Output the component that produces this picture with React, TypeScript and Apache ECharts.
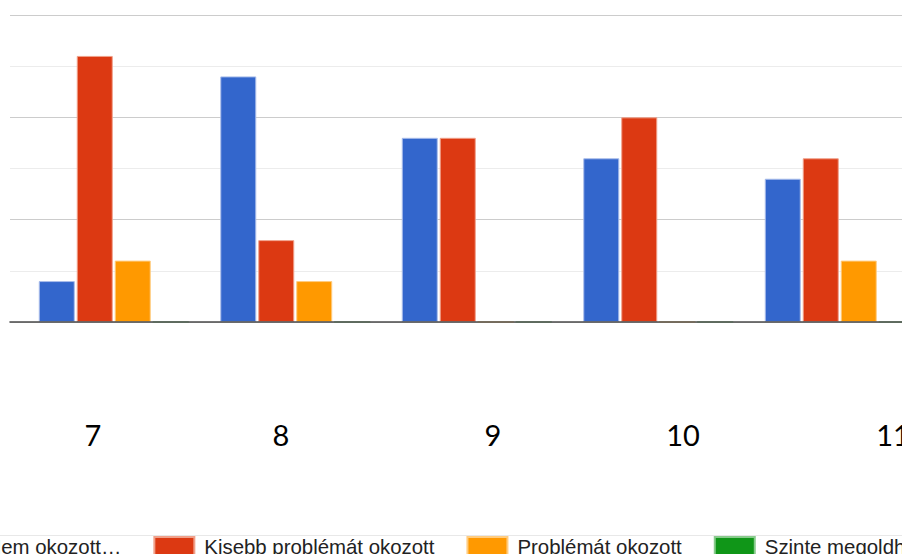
import React, { useEffect, useRef } from "react";
import * as echarts from "echarts";

const categories = ["7", "8", "9", "10", "11"];
const seriesNames = [
  "Nem okozott problémát",
  "Kisebb problémát okozott",
  "Problémát okozott",
  "Szinte megoldhatatlan problémát okozott",
];
const nemOkozott = [2, 12, 9, 8, 7];
const kisebb = [13, 4, 9, 10, 8];
const problemat = [3, 2, 0, 0, 3];
const szinte = [0, 0, 0, 0, 0];
const colors = ["#3366cc", "#dc3912", "#ff9900", "#109618"];
const borderColors = ["#a9bdea", "#f0a08a", "#ffcc80", "#88cb8c"];

// layout of the overlaid category labels (x centres in px)
const labelX = [93, 281, 493, 683, 893];

export default function App() {
  const ref = useRef<HTMLDivElement>(null);
  useEffect(() => {
    document.body.style.margin = "0";
    const chart = echarts.init(ref.current!, undefined, { renderer: "svg" });
    const values = [nemOkozott, kisebb, problemat, szinte];
    chart.setOption({
      animation: false,
      grid: [
        { left: 10, right: 0, top: 15, bottom: 232, outerBoundsMode: "none", containLabel: false },
        { left: 23, width: 907.5, top: 15, bottom: 232, outerBoundsMode: "none", containLabel: false },
      ],
      xAxis: [
        {
          gridIndex: 0,
          type: "value",
          min: 0,
          max: 1,
          z: 5,
          axisLine: { show: true, onZero: false, lineStyle: { color: "#4a4a4a", width: 1.6 } },
          axisTick: { show: false },
          axisLabel: { show: false },
          splitLine: { show: false },
        },
        {
          gridIndex: 1,
          type: "category",
          data: categories,
          axisLine: { show: false },
          axisTick: { show: false },
          axisLabel: { show: false },
          splitLine: { show: false },
        },
      ],
      yAxis: [
        {
          gridIndex: 0,
          type: "value",
          min: 0,
          max: 15,
          interval: 5,
          axisLine: { show: false },
          axisTick: { show: false },
          axisLabel: { show: false },
          splitLine: { show: true, lineStyle: { color: "#cccccc", width: 1.2 } },
          minorTick: { show: false, splitNumber: 2 },
          minorSplitLine: { show: true, lineStyle: { color: "#ececec", width: 1.2 } },
        },
        {
          gridIndex: 1,
          type: "value",
          min: 0,
          max: 15,
          show: false,
          splitLine: { show: false },
        },
      ],
      legend: {
        left: -64.5,
        top: 536,
        padding: 0,
        width: 3000,
        itemWidth: 40,
        itemHeight: 20,
        itemGap: 32,
        icon: "rect",
        data: seriesNames,
        formatter: (name: string) => (name === seriesNames[0] ? "Nem okozott…" : name),
        textStyle: {
          fontFamily: "'Liberation Sans', Arial, sans-serif",
          fontSize: 20.4,
          color: "#222222",
          padding: [0, 0, 2, 5],
        },
      },
      graphic: [
        {
          type: "line",
          shape: { x1: 0, y1: 535.5, x2: 902, y2: 535.5 },
          style: { stroke: "#e8e8e8", lineWidth: 1 },
          silent: true,
        },
        ...categories.map((c, i) => ({
          type: "text",
          x: labelX[i],
          y: 434,
          style: {
            text: c,
            fontFamily: "Lato, 'Open Sans', sans-serif",
            fontSize: 29,
            fill: "#000000",
            align: "center",
            verticalAlign: "middle",
          },
          silent: true,
        })),
      ],
      series: seriesNames.map((name, i) => ({
        name,
        type: "bar",
        xAxisIndex: 1,
        yAxisIndex: 1,
        data: values[i],
        barWidth: 36,
        barGap: "5.5%",
        itemStyle: { color: colors[i], borderColor: borderColors[i], borderWidth: 1 },
        emphasis: { disabled: true },
      })),
    });
    return () => chart.dispose();
  }, []);
  return <div ref={ref} style={{ width: 902, height: 554 }} />;
}
